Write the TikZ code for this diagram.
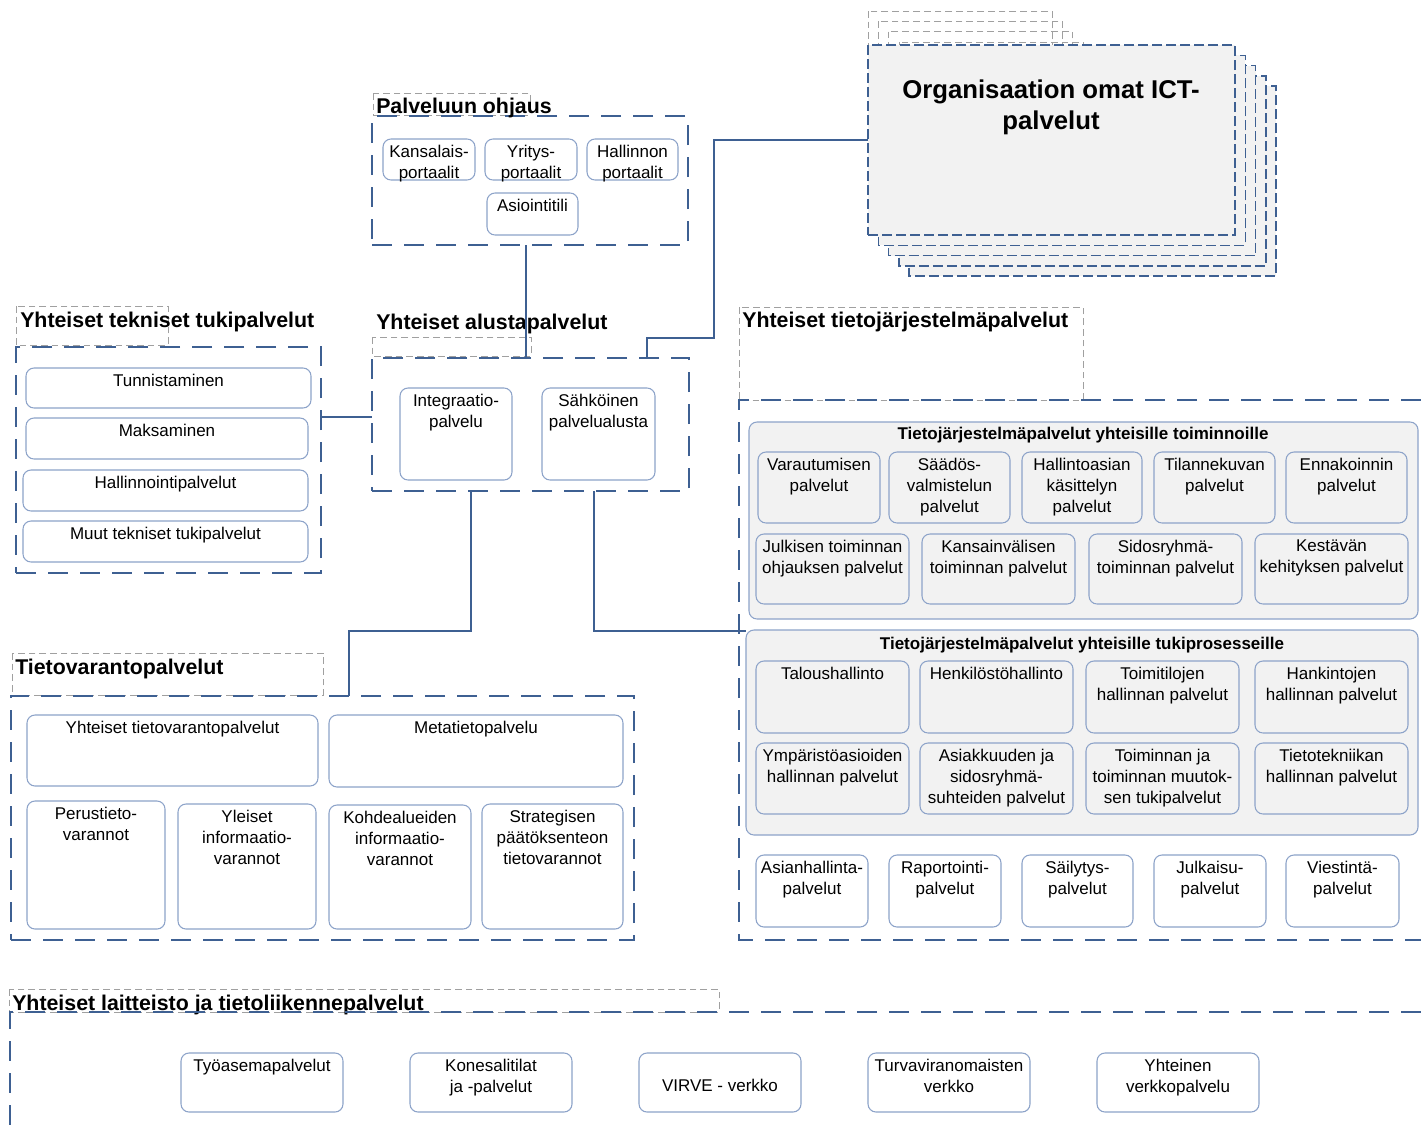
\documentclass[tikz,border=0pt]{standalone}
\usepackage{fontspec}
\setmainfont{Liberation Sans}
\usetikzlibrary{calc}
\definecolor{blueD}{RGB}{62,96,146}
\definecolor{boxB}{RGB}{141,163,201}
\definecolor{grayF}{RGB}{242,242,242}
\definecolor{grayD}{RGB}{160,160,160}
\tikzset{
  rbox/.style={draw=boxB, line width=0.8pt, rounded corners=6pt, fill=white, inner sep=0pt, outer sep=0pt},
  rboxg/.style={rbox, fill=grayF},
  grp/.style={draw=boxB, line width=0.8pt, rounded corners=6pt, fill=grayF, inner sep=0pt, outer sep=0pt},
  cont/.style={draw=blueD, line width=1.5pt, dash pattern=on 15pt off 9pt, inner sep=0pt, outer sep=0pt},
  ttl/.style={draw=grayD, line width=0.6pt, dash pattern=on 5pt off 3pt},
  stackbox/.style={draw=blueD, fill=grayF, line width=1.1pt, dash pattern=on 7.5pt off 3pt, inner sep=0pt, outer sep=0pt},
  conn/.style={draw=blueD, line width=1.4pt},
  btext/.style={font=\fontsize{12.75}{15.75}\selectfont, align=center, anchor=north, inner sep=0pt,
     execute at begin node={\rule{0pt}{12pt}}},
  icttext/.style={font=\fontsize{19.3}{23.25}\selectfont\bfseries, align=center, anchor=north, inner sep=0pt,
     execute at begin node={\rule{0pt}{18pt}}},
  hd/.style={font=\fontsize{16}{19}\selectfont\bfseries, inner sep=0pt, anchor=base west},
  sub/.style={font=\fontsize{12.75}{15}\selectfont\bfseries, inner sep=0pt, anchor=base},
}
% rounded box with one line of text: [style] name x1 y1 x2 y2 text (pixel coordinates, y downward)
\newcommand\rb[7][rbox]{%
  \node[#1, minimum width={(#5-#3)*0.75pt}, minimum height={(#6-#4)*0.75pt}] (#2) at ({(#3+#5)/2},{(#4+#6)/2}) {};
  \node[btext] (#2t) at ({(#3+#5)/2},{#4+2}) {#7};}
% rounded box with several lines of text
\newcommand\rbm[7][rbox]{%
  \node[#1, minimum width={(#5-#3)*0.75pt}, minimum height={(#6-#4)*0.75pt}] (#2) at ({(#3+#5)/2},{(#4+#6)/2}) {};
  \node[btext] (#2t) at ({(#3+#5)/2},{#4+6}) {#7};}
% container: [style] name x1 y1 x2 y2
\newcommand\cn[6][cont]{%
  \node[#1, minimum width={(#5-#3)*0.75pt}, minimum height={(#6-#4)*0.75pt}] (#2) at ({(#3+#5)/2},{(#4+#6)/2}) {};}
\begin{document}
\begin{tikzpicture}[x=0.75pt,y=-0.75pt]
\fill[white,use as bounding box] (0,0) rectangle (1421,1135);

% ---------- Organisaation omat ICT-palvelut (stack)
\foreach \i in {0,...,3}
  \draw[ttl] ({868+10.3*\i},{11+10.3*\i}) rectangle ({1052+10.3*\i},{45+10.3*\i});
\foreach \i in {4,3,2,1}
  \draw[stackbox] ({868+10.3*\i},{45+10.3*\i}) rectangle ({1235+10.3*\i},{235+10.3*\i});
\cn[stackbox]{ict}{868}{45}{1235}{235}
\node[icttext] (ictt) at (1051,80) {Organisaation omat ICT-\\palvelut};

% ---------- Palveluun ohjaus
\draw[ttl] (373,93) rectangle (530,115);
\cn{pal}{372}{116}{688}{245}
\node[hd] (palh) at (376,113) {Palveluun ohjaus};
\rbm{kan}{383}{139}{475}{180}{Kansalais-\\portaalit}
\rbm{yri}{485}{139}{577}{180}{Yritys-\\portaalit}
\rbm{hal}{587}{139}{678}{180}{Hallinnon\\portaalit}
\rb{asi}{487}{193}{578}{235}{Asiointitili}

% ---------- Yhteiset tekniset tukipalvelut
\draw[ttl] (16,306) rectangle (168,345);
\node[hd] (tekh) at (20,327) {Yhteiset tekniset tukipalvelut};
\cn{tek}{16}{347}{321}{573}
\rb{tun}{26}{368}{311}{408}{Tunnistaminen}
\rb{mak}{26}{418}{308}{459}{Maksaminen}
\rb{hln}{23}{470}{308}{511}{Hallinnointipalvelut}
\rb{muu}{23}{521}{308}{562}{Muut tekniset tukipalvelut}

% ---------- Yhteiset alustapalvelut
\node[hd] (aluh) at (376,329) {Yhteiset alustapalvelut};
\draw[ttl] (372,337) rectangle (531,356);
\cn{alu}{372}{358}{689}{491}
\rbm{int}{400}{388}{512}{480}{Integraatio-\\palvelu}
\rbm{sah}{542}{388}{655}{480}{Sähköinen\\palvelualusta}

% ---------- Tietovarantopalvelut
\draw[ttl] (12,653) rectangle (323,695);
\node[hd] (tvph) at (15,674) {Tietovarantopalvelut};
\cn{tvp}{11}{696}{634}{940}
\rb{ytv}{27}{715}{318}{786}{Yhteiset tietovarantopalvelut}
\rb{met}{329}{715}{623}{787}{Metatietopalvelu}
\rbm{per}{27}{801}{165}{929}{Perustieto-\\varannot}
\rbm{yle}{178}{804}{316}{929}{Yleiset\\informaatio-\\varannot}
\rbm{koh}{329}{805}{471}{929}{Kohdealueiden\\informaatio-\\varannot}
\rbm{str}{482}{804}{623}{929}{Strategisen\\päätöksenteon\\tietovarannot}

% ---------- Yhteiset tietojärjestelmäpalvelut
\draw[ttl] (739,307) rectangle (1083,400);
\node[hd] (tjph) at (742,327) {Yhteiset tietojärjestelmäpalvelut};
\draw[cont] (1421,400) -- (739,400) -- (739,940) -- (1421,940);

\cn[grp]{toi}{749}{422}{1418}{619}
\node[sub] (toih) at (1083,439) {Tietojärjestelmäpalvelut yhteisille toiminnoille};
\rbm[rboxg]{var}{758}{452}{880}{523}{Varautumisen\\palvelut}
\rbm[rboxg]{saa}{889}{452}{1010}{523}{Säädös-\\valmistelun\\palvelut}
\rbm[rboxg]{hka}{1022}{452}{1142}{523}{Hallintoasian\\käsittelyn\\palvelut}
\rbm[rboxg]{til}{1154}{452}{1275}{523}{Tilannekuvan\\palvelut}
\rbm[rboxg]{enn}{1286}{452}{1407}{523}{Ennakoinnin\\palvelut}
\rbm[rboxg]{jul}{756}{534}{909}{604}{Julkisen toiminnan\\ohjauksen palvelut}
\rbm[rboxg]{kvt}{922}{534}{1075}{604}{Kansainvälisen\\toiminnan palvelut}
\rbm[rboxg]{sid}{1089}{534}{1242}{604}{Sidosryhmä-\\toiminnan palvelut}
\rbm[rboxg]{kes}{1255}{534}{1408}{604}{Kestävän\\kehityksen palvelut}

\cn[grp]{tuki}{746}{630}{1418}{835}
\node[sub] (tukih) at (1082,649) {Tietojärjestelmäpalvelut yhteisille tukiprosesseille};
\rb[rboxg]{tal}{756}{661}{909}{733}{Taloushallinto}
\rb[rboxg]{hen}{920}{661}{1073}{733}{Henkilöstöhallinto}
\rbm[rboxg]{tmt}{1086}{661}{1239}{733}{Toimitilojen\\hallinnan palvelut}
\rbm[rboxg]{han}{1255}{661}{1408}{733}{Hankintojen\\hallinnan palvelut}
\rbm[rboxg]{ymp}{756}{743}{909}{814}{Ympäristöasioiden\\hallinnan palvelut}
\rbm[rboxg]{asia}{920}{743}{1073}{814}{Asiakkuuden ja\\sidosryhmä-\\suhteiden palvelut}
\rbm[rboxg]{tjm}{1086}{743}{1239}{814}{Toiminnan ja\\toiminnan muutok-\\sen tukipalvelut}
\rbm[rboxg]{tie}{1255}{743}{1408}{814}{Tietotekniikan\\hallinnan palvelut}

\rbm{ash}{756}{855}{868}{927}{Asianhallinta-\\palvelut}
\rbm{rap}{889}{855}{1001}{927}{Raportointi-\\palvelut}
\rbm{sai}{1022}{855}{1133}{927}{Säilytys-\\palvelut}
\rbm{jlk}{1154}{855}{1266}{927}{Julkaisu-\\palvelut}
\rbm{vie}{1286}{855}{1399}{927}{Viestintä-\\palvelut}

% ---------- Yhteiset laitteisto ja tietoliikennepalvelut
\draw[ttl] (9,989) rectangle (719,1012);
\node[hd] (laih) at (12,1010) {Yhteiset laitteisto ja tietoliikennepalvelut};
\draw[cont] (1421,1012) -- (10,1012) -- (10,1135);
\rb{tya}{181}{1053}{343}{1112}{Työasemapalvelut}
\rbm{kon}{410}{1053}{572}{1112}{Konesalitilat\\ja -palvelut}
\rb{vir}{639}{1053}{801}{1112}{}
\node[btext] (virt) at (720,1075) {VIRVE - verkko};
\rbm{tur}{868}{1053}{1030}{1112}{Turvaviranomaisten\\verkko}
\rbm{yht}{1097}{1053}{1259}{1112}{Yhteinen\\verkkopalvelu}

% ---------- Connectors
\draw[conn] let \p1=(pal.south), \p2=(alu.north) in (\x1-3pt,\y1) -- (\x1-3pt,\y2);
\draw[conn] let \p1=(tek.east), \p2=(alu.west) in (\x1,\y2+5.6pt) -- (\x2,\y2+5.6pt);
\draw[conn] let \p1=(alu.north), \p2=(ict.west) in
  (\x1+87.4pt,\y1) -- (\x1+87.4pt,\y1+15pt) -- (\x1+137.6pt,\y1+15pt) -- (\x1+137.6pt,\y2) -- (\p2);
\draw[conn] let \p1=(alu.south), \p2=(tvp.north) in
  (\x1-44.6pt,\y1) -- (\x1-44.6pt,\y1-105pt) -- (\x2+19.9pt,\y1-105pt) -- (\x2+19.9pt,\y2);
\draw[conn] let \p1=(alu.south), \p2=(tuki.west) in
  (\x1+47.6pt,\y1) -- (\x1+47.6pt,\y1-105pt) -- (\x2,\y1-105pt);
\end{tikzpicture}
\end{document}
